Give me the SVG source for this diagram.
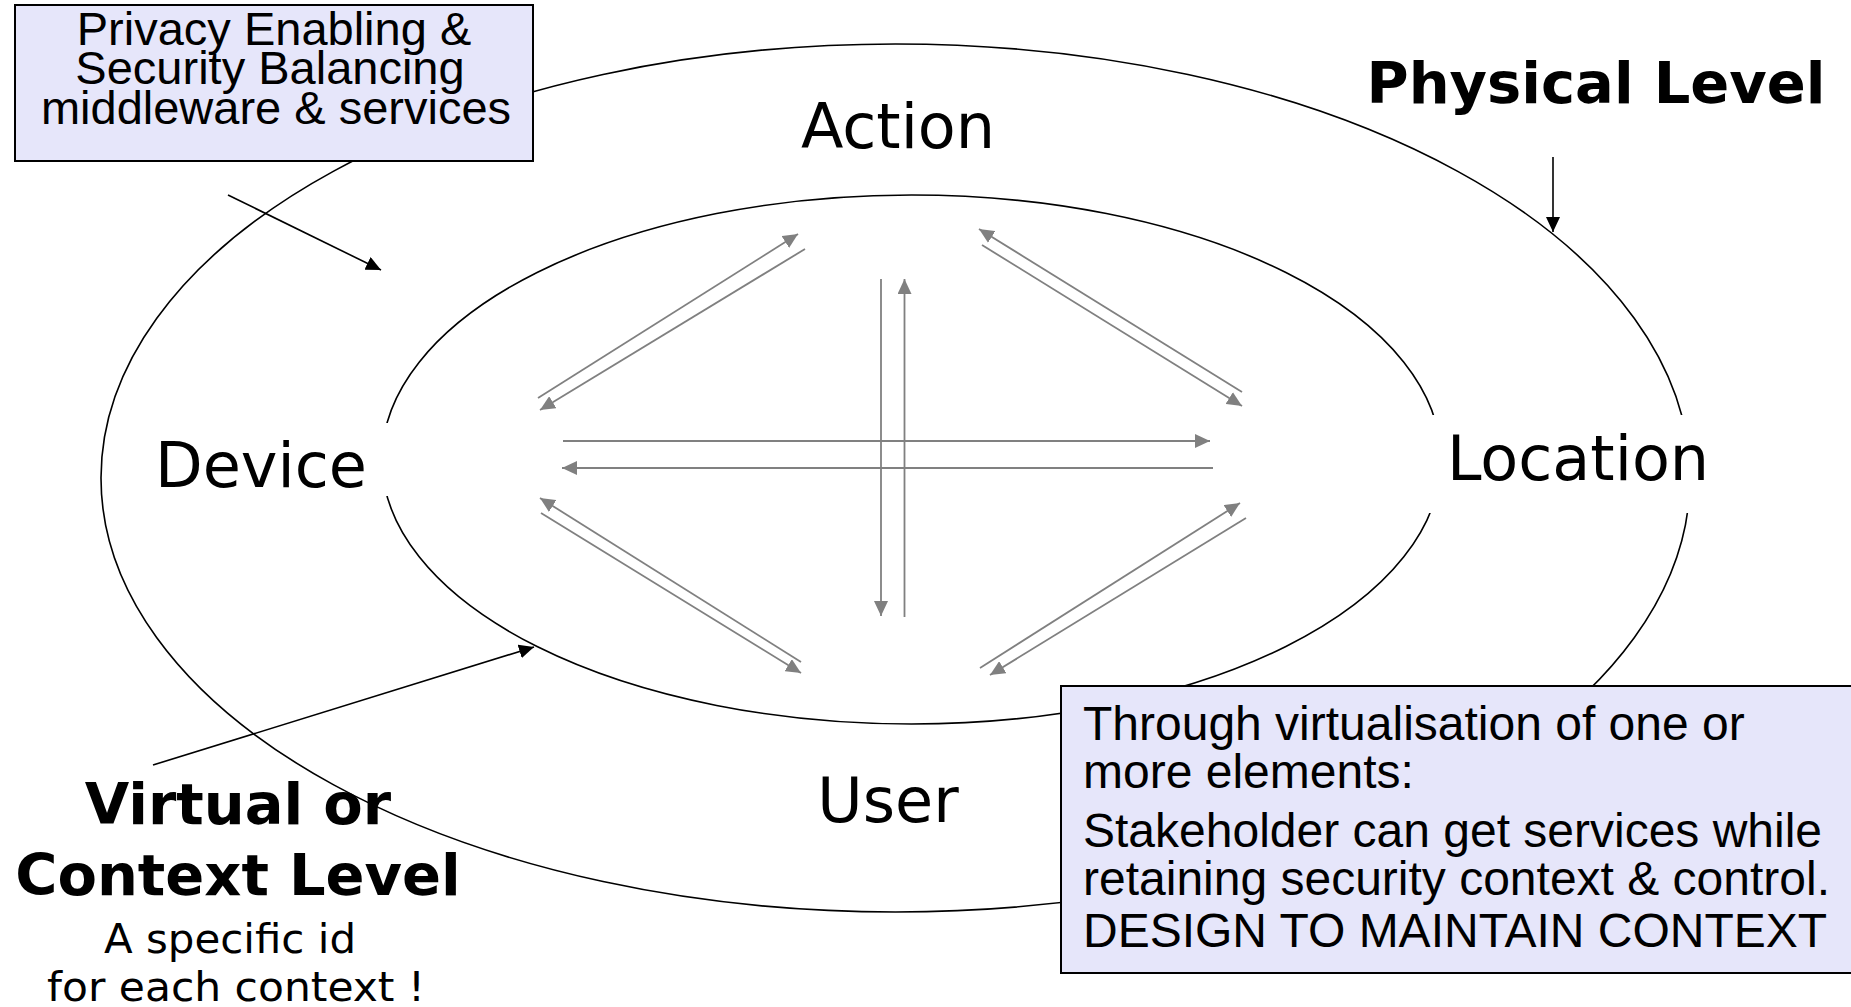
<svg xmlns="http://www.w3.org/2000/svg" width="1851" height="1007" viewBox="0 0 1851 1007">
  <style>
    .ring { fill: none; stroke: #000; stroke-width: 1.6; }
    .mask { fill: #fff; stroke: none; }
    .label { font-family: "DejaVu Sans", Verdana, sans-serif; font-size: 62px; fill: #000; text-anchor: middle; }
    .level { font-family: "DejaVu Sans", Verdana, sans-serif; font-weight: bold; font-size: 57.5px; fill: #000; text-anchor: middle; }
    .note { font-family: "DejaVu Sans", Verdana, sans-serif; font-size: 40px; fill: #000; text-anchor: middle; }
    .box { fill: #E6E6FA; stroke: #000; stroke-width: 2; }
    .boxtext { font-family: "Liberation Sans", Arial, sans-serif; font-size: 47px; fill: #000; }
    .wide { font-size: 48px; }
    .flow { stroke: #808080; stroke-width: 1.8; fill: none; marker-end: url(#gray-head); }
    .pointer { stroke: #000; stroke-width: 1.6; fill: none; marker-end: url(#black-head); }
  </style>
  <defs>
    <marker id="gray-head" markerUnits="userSpaceOnUse" markerWidth="16" markerHeight="14" refX="15" refY="7" orient="auto">
      <path d="M0,0 L15,7 L0,14 z" fill="#808080"/>
    </marker>
    <marker id="black-head" markerUnits="userSpaceOnUse" markerWidth="16" markerHeight="14" refX="15" refY="7" orient="auto">
      <path d="M0,0 L15,7 L0,14 z" fill="#000"/>
    </marker>
  </defs>

  <rect width="1851" height="1007" fill="#fff"/>

  <!-- physical (outer) and context (inner) rings -->
  <g id="rings">
    <ellipse class="ring" cx="895.5" cy="478" rx="794.5" ry="434"/>
    <ellipse class="ring" cx="911.5" cy="459.5" rx="529.5" ry="264.5"/>
    <!-- label backgrounds break the rings -->
    <rect class="mask" x="150" y="423" width="246" height="73"/>
    <rect class="mask" x="1418" y="415" width="297" height="98"/>
  </g>

  <!-- connectors -->
  <g id="connectors">
    <!-- Device <-> Action -->
    <line class="flow" x1="538" y1="398" x2="798" y2="234"/>
    <line class="flow" x1="805" y1="249" x2="540" y2="410"/>
    <!-- Action <-> Location -->
    <line class="flow" x1="1242" y1="392" x2="979" y2="229"/>
    <line class="flow" x1="982" y1="245" x2="1242" y2="406"/>
    <!-- Action <-> User -->
    <line class="flow" x1="881" y1="279" x2="881" y2="616"/>
    <line class="flow" x1="904.5" y1="617" x2="904.5" y2="279"/>
    <!-- Device <-> Location -->
    <line class="flow" x1="563" y1="441" x2="1210" y2="441"/>
    <line class="flow" x1="1213" y1="468" x2="562" y2="468"/>
    <!-- Device <-> User -->
    <line class="flow" x1="801" y1="662" x2="540" y2="498"/>
    <line class="flow" x1="541" y1="513" x2="801" y2="673"/>
    <!-- User <-> Location -->
    <line class="flow" x1="980" y1="668" x2="1240" y2="503"/>
    <line class="flow" x1="1246" y1="518" x2="990" y2="675"/>
    <!-- callout pointers -->
    <line class="pointer" x1="228" y1="195" x2="381" y2="270"/>
    <line class="pointer" x1="1553" y1="157" x2="1553" y2="232"/>
    <line class="pointer" x1="153" y1="765" x2="534" y2="647"/>
  </g>

  <g id="action"><text class="label" x="898" y="148">Action</text></g>
  <g id="device"><text class="label" x="261" y="487">Device</text></g>
  <g id="location"><text class="label" x="1578" y="480">Location</text></g>
  <g id="user"><text class="label" x="888" y="822">User</text></g>

  <g id="physical-level">
    <text class="level" x="1596" y="103">Physical Level</text>
  </g>

  <g id="context-level">
    <text class="level" x="238" y="824">Virtual or</text>
    <text class="level" x="238" y="895">Context Level</text>
    <text class="note" x="230" y="953" textLength="252" lengthAdjust="spacingAndGlyphs">A specific id</text>
    <text class="note" x="236" y="1001" textLength="378" lengthAdjust="spacingAndGlyphs">for each context !</text>
  </g>

  <g id="middleware">
    <rect class="box" x="15" y="5" width="518" height="156"/>
    <text class="boxtext" x="274" y="45" text-anchor="middle">Privacy Enabling &amp;</text>
    <text class="boxtext" x="270" y="84" text-anchor="middle">Security Balancing</text>
    <text class="boxtext" x="276" y="124" text-anchor="middle">middleware &amp; services</text>
  </g>

  <g id="virtualisation">
    <rect class="box" x="1061" y="686" width="800" height="287"/>
    <text class="boxtext wide" x="1083" y="740">Through virtualisation of one or</text>
    <text class="boxtext wide" x="1083" y="788">more elements:</text>
    <text class="boxtext wide" x="1083" y="847">Stakeholder can get services while</text>
    <text class="boxtext wide" x="1083" y="895">retaining security context &amp; control.</text>
    <text class="boxtext wide" x="1083" y="947">DESIGN TO MAINTAIN CONTEXT</text>
  </g>
</svg>
